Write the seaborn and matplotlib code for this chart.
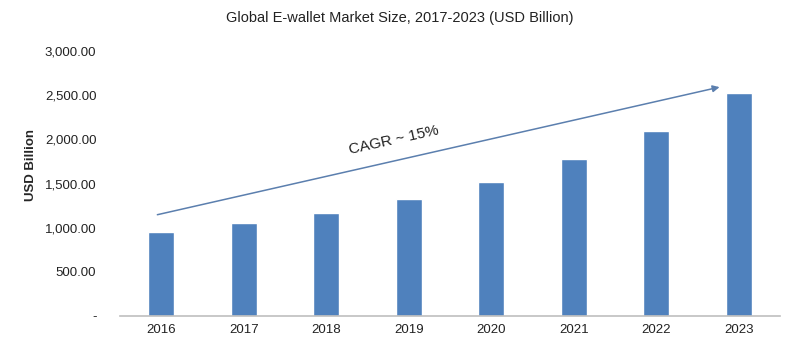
import matplotlib
matplotlib.use("Agg")
import matplotlib.pyplot as plt
import seaborn as sns
import pandas as pd

years = ["2016", "2017", "2018", "2019", "2020", "2021", "2022", "2023"]
market_size = [947, 1049, 1169, 1325, 1520, 1774, 2094, 2528]
y_ticks = [0, 500, 1000, 1500, 2000, 2500, 3000]

sns.set_style("white")
plt.rcParams["font.family"] = ["Liberation Sans", "DejaVu Sans"]

df = pd.DataFrame({"Year": years, "Value": market_size})

fig = plt.figure(figsize=(8, 3.53), dpi=100)
ax = fig.add_axes([0.15, 0.105, 0.825, 0.75])

sns.barplot(data=df, x="Year", y="Value", color="#4f81bd", width=0.32,
            saturation=1, ax=ax)

ax.set_xlim(-0.5, 7.5)
ax.set_ylim(0, 3000)
ax.set_yticks(y_ticks)
ax.set_yticklabels(["-" if v == 0 else f"{v:,.2f}" for v in y_ticks])
ax.tick_params(axis="both", length=0, labelsize=9.5, colors="#222222")
ax.tick_params(axis="y", pad=17)
ax.tick_params(axis="x", pad=6)

for s in ["top", "right", "left"]:
    ax.spines[s].set_visible(False)
ax.spines["bottom"].set_color("#bfbfbf")
ax.spines["bottom"].set_linewidth(1.2)

ax.set_xlabel("")
ax.set_ylabel("USD Billion", fontsize=9.5, fontweight="bold")
ax.yaxis.set_label_coords(-0.125, 0.57)
fig.text(0.5, 0.95, "Global E-wallet Market Size, 2017-2023 (USD Billion)",
         ha="center", va="center", fontsize=10.5, color="#222222")

# CAGR arrow
ax.annotate("", xy=(6.8, 2600), xytext=(-0.08, 1140),
            arrowprops=dict(arrowstyle="-|>", color="#5b7fae", lw=1.1,
                            mutation_scale=10))
ax.text(2.82, 1990, "CAGR ~ 15%", rotation=12.5, ha="center", va="center",
        fontsize=11, color="#222222")

fig.savefig("out.png", dpi=100)
